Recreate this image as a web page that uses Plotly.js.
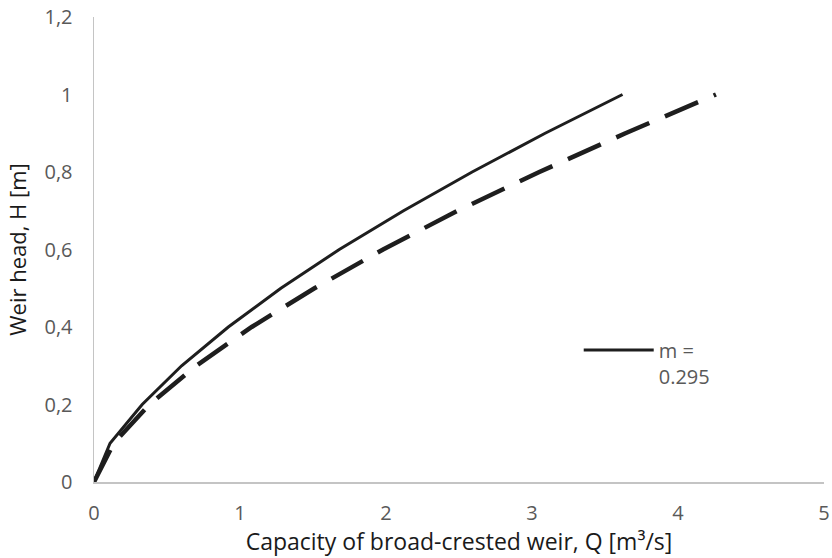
<!DOCTYPE html>
<html>
<head>
<meta charset="utf-8">
<script src="https://cdn.plot.ly/plotly-3.0.1.min.js"></script>
<style>
html,body{margin:0;padding:0;background:#fff;}
#chart{width:832px;height:558px;}
</style>
</head>
<body>
<div id="chart"></div>
<script>
// Weir head H [m]
var headH = [0, 0.1, 0.2, 0.3, 0.4, 0.5, 0.6, 0.7, 0.8, 0.9, 1.0];
// Capacity Q [m3/s], m = 0.295 (solid)
var capacitySolid = [0, 0.11, 0.33, 0.60, 0.92, 1.28, 1.68, 2.12, 2.59, 3.09, 3.62];
// Capacity Q [m3/s], second curve (dashed)
var capacityDashed = [0, 0.135, 0.38, 0.70, 1.08, 1.51, 1.98, 2.49, 3.05, 3.64, 4.26];

var solidName = "m =<br>0.295";

var xTickVals = [0, 1, 2, 3, 4, 5];
var xTickText = ["0", "1", "2", "3", "4", "5"];
var yTickVals = [0, 0.2, 0.4, 0.6, 0.8, 1.0, 1.2];
var yTickText = ["0", "0,2", "0,4", "0,6", "0,8", "1", "1,2"];

var FONT = "'Open Sans', Lato, sans-serif";

var traces = [
  {
    x: capacityDashed, y: headH, type: "scatter", mode: "lines",
    line: {color: "#1e1e1e", width: 4.5, dash: "36px,17px"},
    showlegend: false, hoverinfo: "skip"
  },
  {
    x: capacitySolid, y: headH, type: "scatter", mode: "lines",
    name: solidName,
    line: {color: "#1e1e1e", width: 3}
  }
];

var layout = {
  width: 832, height: 558,
  paper_bgcolor: "#ffffff", plot_bgcolor: "#ffffff",
  margin: {l: 94, r: 8, t: 17, b: 76},
  font: {family: FONT, color: "#595959", size: 20},
  showlegend: true,
  legend: {
    x: 0.664, y: 0.326, xanchor: "left", yanchor: "top",
    bgcolor: "rgba(0,0,0,0)", borderwidth: 0,
    valign: "top", itemwidth: 70,
    font: {family: FONT, color: "#595959", size: 20}
  },
  xaxis: {
    range: [0, 5], tickvals: xTickVals, ticktext: xTickText,
    showgrid: false, zeroline: false, showline: true,
    linecolor: "#c4c4c4", linewidth: 1.5, layer: "below traces",
    ticks: "", ticklen: 0, ticklabelstandoff: 12,
    tickfont: {family: FONT, size: 20, color: "#595959"},
    title: {text: "Capacity of broad-crested weir, Q [m³/s]", font: {family: FONT, size: 23, color: "#1a1a1a"}, standoff: 5}
  },
  yaxis: {
    range: [0, 1.2], tickvals: yTickVals, ticktext: yTickText,
    showgrid: false, zeroline: false, showline: true,
    linecolor: "#c4c4c4", linewidth: 1.5, layer: "below traces",
    ticks: "", ticklen: 0, ticklabelstandoff: 16,
    tickfont: {family: FONT, size: 20, color: "#595959"},
    title: {text: "Weir head, H [m]", font: {family: FONT, size: 22, color: "#1a1a1a"}, standoff: 12}
  }
};

Plotly.newPlot("chart", traces, layout, {displayModeBar: false, staticPlot: true});
</script>
</body>
</html>
